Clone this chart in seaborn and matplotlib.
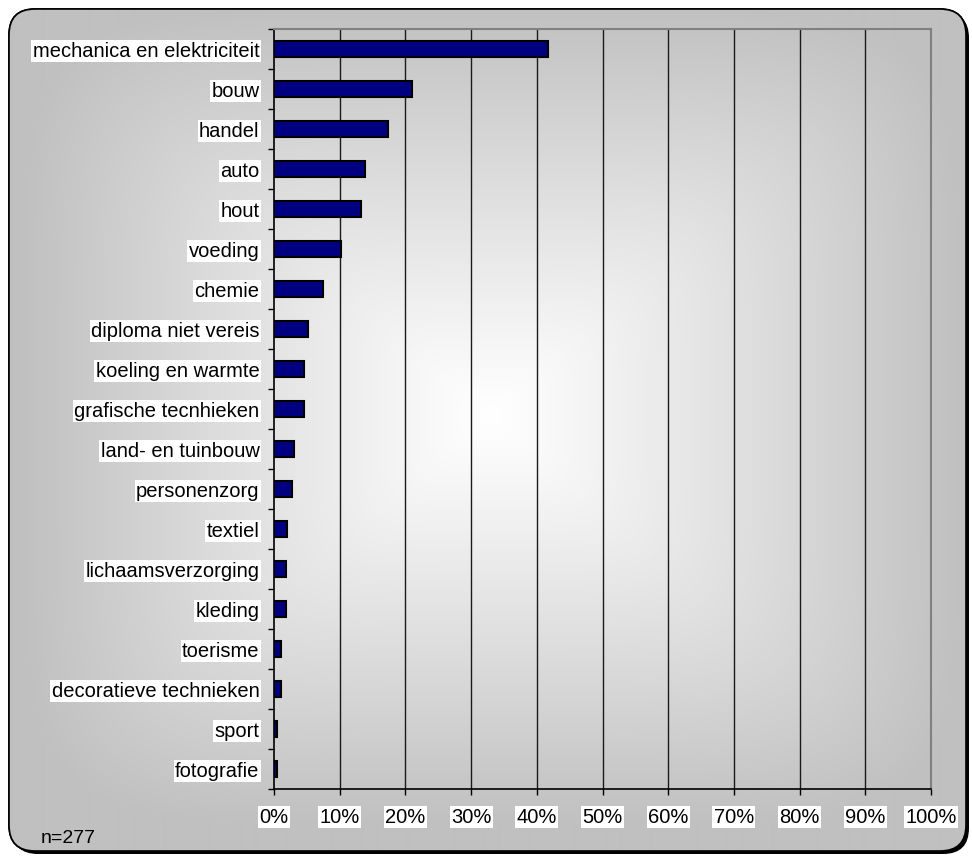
import numpy as np
import matplotlib
matplotlib.use("Agg")
import matplotlib.pyplot as plt
from matplotlib.patches import FancyBboxPatch
from matplotlib.ticker import FixedLocator, FuncFormatter
import seaborn as sns

categories = [
    "mechanica en elektriciteit", "bouw", "handel", "auto", "hout", "voeding",
    "chemie", "diploma niet vereis", "koeling en warmte", "grafische tecnhieken",
    "land- en tuinbouw", "personenzorg", "textiel", "lichaamsverzorging",
    "kleding", "toerisme", "decoratieve technieken", "sport", "fotografie",
]
shares = [41.7, 21.0, 17.4, 13.8, 13.2, 10.2, 7.4, 5.1, 4.5, 4.5,
          3.0, 2.7, 2.0, 1.9, 1.9, 1.1, 1.1, 0.4, 0.4]
x_ticks = list(range(0, 101, 10))
sample_note = "n=277"

sns.set_style("white")
plt.rcParams["font.family"] = ["Liberation Sans", "DejaVu Sans"]

W, H = 972, 857
fig = plt.figure(figsize=(W / 100, H / 100), dpi=100)
fig.patch.set_facecolor("white")

# --- background: rounded frame with drop shadow and centre-out gradient ---
bg = fig.add_axes([0, 0, 1, 1], zorder=-10)
bg.set_xlim(0, W)
bg.set_ylim(H, 0)
bg.axis("off")

fx0, fy0, fx1, fy1 = 9, 9, 966, 851
shadow = FancyBboxPatch((fx0 + 3, fy0 + 3), fx1 - fx0, fy1 - fy0,
                        boxstyle="round,pad=0,rounding_size=26",
                        facecolor="black", edgecolor="none", zorder=0)
bg.add_patch(shadow)
frame = FancyBboxPatch((fx0, fy0), fx1 - fx0, fy1 - fy0,
                       boxstyle="round,pad=0,rounding_size=26",
                       facecolor="white", edgecolor="black", linewidth=1.2, zorder=1)
bg.add_patch(frame)

yy, xx = np.mgrid[0:H, 0:W]
cx, cy, hx, hy = 490, 415, 470, 410
dx = np.abs(xx - cx) / hx
dy = np.abs(yy - cy) / hy
p = 6.0
d = np.clip((dx ** p + dy ** p) ** (1 / p), 0, 1)
edge, centre = 192.0, 255.0
val = (centre - (centre - edge) * d ** 1.1) / 255.0
img = np.dstack([val, val, val])
im = bg.imshow(img, extent=[0, W, H, 0], aspect="auto", zorder=2, interpolation="bilinear")
im.set_clip_path(frame)
border = FancyBboxPatch((fx0, fy0), fx1 - fx0, fy1 - fy0,
                        boxstyle="round,pad=0,rounding_size=26",
                        facecolor="none", edgecolor="black", linewidth=1.2, zorder=3)
bg.add_patch(border)

# --- main bar chart ---
left, right = 274 / W, 931 / W
top, bottom = 1 - 29 / H, 1 - 789 / H
ax = fig.add_axes([left, bottom, right - left, top - bottom])
ax.set_facecolor("none")

sns.barplot(x=shares, y=categories, orient="h", color="#000080", saturation=1,
            edgecolor="black", linewidth=1.5, width=0.4, ax=ax, zorder=3)

n = len(categories)
ax.set_xlim(0, 100)
ax.set_ylim(n - 0.5, -0.5)
ax.set_xlabel("")
ax.set_ylabel("")

ax.xaxis.set_major_locator(FixedLocator(x_ticks))
ax.xaxis.set_major_formatter(FuncFormatter(lambda v, pos: f"{v:.0f}%"))
for xv in x_ticks[1:-1]:
    ax.axvline(xv, color="#1a1a1a", linewidth=1.0, zorder=1)

ax.yaxis.set_minor_locator(FixedLocator(np.arange(-0.5, n, 1.0)))
ax.tick_params(axis="y", which="major", length=0, pad=10.5, labelsize=14.5, labelcolor="black")
ax.tick_params(axis="y", which="minor", left=True, length=4, width=1, color="black", direction="out")
ax.tick_params(axis="x", which="major", bottom=True, length=4, width=1, color="black",
               direction="out", pad=9.5, labelsize=14.5, labelcolor="black")

for lab in ax.get_yticklabels() + ax.get_xticklabels():
    lab.set_bbox(dict(facecolor="white", edgecolor="none", pad=1.0))

for side in ["left", "bottom"]:
    ax.spines[side].set_visible(True)
    ax.spines[side].set_color("black")
    ax.spines[side].set_linewidth(1.2)
for side in ["top", "right"]:
    ax.spines[side].set_visible(True)
    ax.spines[side].set_color("#808080")
    ax.spines[side].set_linewidth(1.5)

fig.text(41 / W, 1 - 843 / H, sample_note, fontsize=14, color="black",
         ha="left", va="baseline")

fig.savefig("out.png", dpi=100, facecolor="white")
